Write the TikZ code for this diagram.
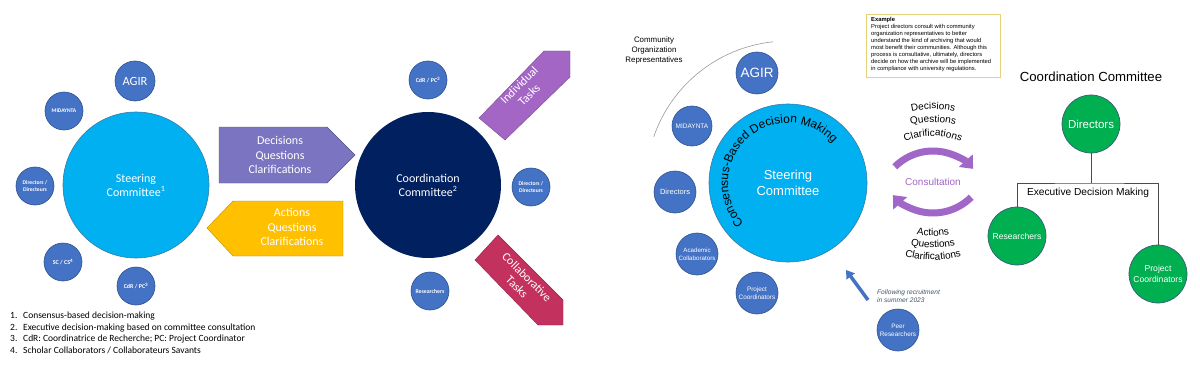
\documentclass[tikz,border=0pt]{standalone}
\usepackage{fontspec}
\setmainfont{Liberation Sans}
\newfontfamily\carl{Carlito}
\usetikzlibrary{arrows.meta,decorations.text,calc}
\newcommand\fsz[2]{\fontsize{#1}{#2}\selectfont}
\definecolor{cSmall}{HTML}{4472C4}
\definecolor{cSmallB}{HTML}{2F528F}
\definecolor{cCyan}{HTML}{00B0F0}
\definecolor{cCyanB}{HTML}{3A7BA8}
\definecolor{cNavy}{HTML}{002060}
\definecolor{cDec}{HTML}{7B74C1}
\definecolor{cAct}{HTML}{FFC000}
\definecolor{cInd}{HTML}{A366C4}
\definecolor{cCol}{HTML}{C3315F}
\definecolor{cCons}{HTML}{A066C8}
\definecolor{cGreen}{HTML}{00B050}
\definecolor{cGreenB}{HTML}{3B5A7A}
\definecolor{cFollow}{HTML}{44546A}
\definecolor{cBox}{HTML}{E6D27A}
\tikzset{
  circ/.style={circle, inner sep=0pt, align=center, text=white},
  small/.style={circ, fill=cSmall, draw=cSmallB, line width=0.6pt},
  bigcyan/.style={circ, fill=cCyan, draw=cCyanB, line width=0.6pt},
  green/.style={circ, fill=cGreen, draw=cGreenB, line width=0.7pt},
  lbl/.style={inner sep=0pt, align=center},
  tree/.style={draw=black!70, line width=1pt},
  consarrow/.style={draw=cCons, line width=7pt, -{Triangle[width=18pt,length=11pt]}},
}
\begin{document}
\begin{tikzpicture}[x=1pt,y=1pt]
\useasboundingbox[fill=white] (0,0) rectangle (1200,-369);

% ---------------- LEFT PANEL ----------------
\node[bigcyan, minimum size=146pt, font=\carl\fsz{12}{14}] (lsteer) at (136,-185) {Steering\\Committee\textsuperscript{1}};
\node[small, minimum size=40pt, font=\carl\fsz{12.5}{13}] (lagir) at (135,-81) {AGIR};
\node[small, minimum size=38pt, font=\carl\bfseries\fsz{5.5}{6}] (lmid) at (64,-111) {MIDAYNTA};
\node[small, minimum size=38pt, font=\carl\bfseries\fsz{5.6}{7.5}] (ldir) at (35,-186) {Directors /\\Directeurs};
\node[small, minimum size=38pt, font=\carl\bfseries\fsz{6}{7}] (lsc) at (63,-262) {SC / CS\textsuperscript{4}};
\node[small, minimum size=38pt, font=\carl\bfseries\fsz{6}{7}] (lcdr) at (136,-286) {CdR / PC\textsuperscript{3}};

\fill[cDec, draw=cDec!70!black, line width=0.4pt] (219,-127) -- (327,-127) -- (355,-155) -- (327,-183) -- (219,-183) -- cycle;
\node[lbl, text=white, font=\carl\fsz{12}{14.5}] (ldec) at (280,-155) {Decisions\\Questions\\Clarifications};
\fill[cAct, draw=cAct!75!black, line width=0.4pt] (207,-228) -- (233,-201) -- (343,-201) -- (343,-256) -- (233,-256) -- cycle;
\node[lbl, text=white, font=\carl\fsz{12}{14.5}] (lact) at (292,-227) {Actions\\Questions\\Clarifications};

\node[circ, fill=cNavy, minimum size=146pt, font=\carl\fsz{12}{14}] (lcoord) at (428,-185) {Coordination\\Committee\textsuperscript{2}};
\node[small, minimum size=38pt, font=\carl\bfseries\fsz{6}{7}] (rcdr) at (428,-80) {CdR / PC\textsuperscript{3}};
\node[small, minimum size=38pt, font=\carl\bfseries\fsz{5.6}{7.5}] (rdir) at (531,-187) {Directors /\\Directeurs};
\node[small, minimum size=38pt, font=\carl\bfseries\fsz{5.8}{7}] (rres) at (430,-291) {Researchers};

\fill[cInd, draw=cInd!75!black, line width=0.4pt] (479,-118) -- (544,-51) -- (570,-51) -- (570,-77) -- (505,-140) -- cycle;
\node[lbl, rotate=45, text=white, font=\carl\fsz{12}{14}] (lind) at (524,-90) {Individual\\Tasks};
\fill[cCol, draw=cCol!75!black, line width=0.4pt] (475,-260) -- (498,-235) -- (563,-300) -- (563,-325) -- (538,-325) -- cycle;
\node[lbl, rotate=-45, text=white, font=\carl\fsz{12}{14}] (lcol) at (522,-282) {Collaborative\\Tasks};

\node[anchor=north west, inner sep=0pt, align=left, font=\carl\fsz{9.5}{11.5}] (legend) at (10,-312)
 {\makebox[13pt][l]{1.}Consensus-based decision-making\\
  \makebox[13pt][l]{2.}Executive decision-making based on committee consultation\\
  \makebox[13pt][l]{3.}CdR: Coordinatrice de Recherche; PC: Project Coordinator\\
  \makebox[13pt][l]{4.}Scholar Collaborators / Collaborateurs Savants};

% ---------------- RIGHT PANEL ----------------
\coordinate (cs) at (788,-183);
\draw[color=black!40, line width=0.6pt] ($(cs)+(161:142pt)$) arc[start angle=161, end angle=96, radius=142pt];
\node[lbl, font=\fsz{7.9}{10}] (community) at (654,-50) {Community\\Organization\\Representatives};

\node[bigcyan, minimum size=158pt, font=\fsz{13}{16}] (rsteer) at (cs) {Steering\\Committee};
\path[decorate, decoration={text along path, text align=center,
  text={|\fsz{12}{12}|Consensus-Based Decision Making}}]
  ($(cs)+(228:60pt)$) arc[start angle=228, end angle=36, radius=60pt];

\node[small, minimum size=42pt, font=\fsz{13.5}{14}] (ragir) at (757,-73) {AGIR};
\node[small, minimum size=40pt, font=\fsz{6.5}{7}] (rmid) at (692,-126) {MIDAYNTA};
\node[small, minimum size=42pt, font=\fsz{7.5}{8}] (rdirs) at (675,-192) {Directors};
\node[small, minimum size=42pt, font=\fsz{6.2}{7.8}] (racad) at (697,-254) {Academic\\Collaborators};
\node[small, minimum size=42pt, font=\fsz{6.4}{7.8}] (rproj) at (757,-293) {Project\\Coordinators};
\node[small, minimum size=42pt, font=\fsz{6.4}{7.8}] (rpeer) at (898,-330) {Peer\\Researchers};

\coordinate (recS) at (868,-300);
\coordinate (recE) at (846,-270);
\draw[draw=cSmall, line width=3.5pt, -{Triangle[width=10pt,length=8pt]}] (recS) -- (recE);
\node[anchor=west, lbl, align=left, text=cFollow, font=\itshape\fsz{6.6}{8}] (follow) at (877,-296) {Following recruitment\\in summer 2023};

% consultation arrows
\coordinate (ctop) at (933,-205);
\coordinate (cbot) at (933,-159);
\draw[consarrow] ($(ctop)+(135:54pt)$) arc[start angle=135, end angle=42, radius=54pt];
\draw[consarrow] ($(cbot)+(-45:54pt)$) arc[start angle=-45, end angle=-138, radius=54pt];
\node[lbl, text=cCons, font=\fsz{10}{10}] (consult) at (933,-182) {Consultation};

\path[decorate, decoration={text along path, text align=center, text={|\fsz{10}{10}|Decisions}}]
  ($(ctop)+(130:96pt)$) arc[start angle=130, end angle=50, radius=96pt];
\path[decorate, decoration={text along path, text align=center, text={|\fsz{10}{10}|Questions}}]
  ($(ctop)+(130:83pt)$) arc[start angle=130, end angle=50, radius=83pt];
\path[decorate, decoration={text along path, text align=center, text={|\fsz{10}{10}|Clarifications}}]
  ($(ctop)+(135:69pt)$) arc[start angle=135, end angle=45, radius=69pt];

\path[decorate, decoration={text along path, text align=center, text={|\fsz{10}{10}|Actions}}]
  ($(cbot)+(-130:77pt)$) arc[start angle=-130, end angle=-50, radius=77pt];
\path[decorate, decoration={text along path, text align=center, text={|\fsz{10}{10}|Questions}}]
  ($(cbot)+(-130:89pt)$) arc[start angle=-130, end angle=-50, radius=89pt];
\path[decorate, decoration={text along path, text align=center, text={|\fsz{10}{10}|Clarifications}}]
  ($(cbot)+(-130:101pt)$) arc[start angle=-130, end angle=-50, radius=101pt];

% example box
\draw[draw=cBox, line width=0.8pt, fill=white] (866,-14) rectangle (1000,-77);
\node[anchor=north west, inner sep=0pt, align=left, font=\fsz{5.8}{7}] (example) at (871,-17.5)
 {\textbf{Example}\\
  Project directors consult with community\\
  organization representatives to better\\
  understand the kind of archiving that would\\
  most benefit their communities. Although this\\
  process is consultative, ultimately, directors\\
  decide on how the archive will be implemented\\
  in compliance with university regulations.};

% coordination committee tree
\node[lbl, font=\fsz{13.2}{14}] (cctitle) at (1091,-77) {Coordination Committee};
\node[green, minimum size=58pt, font=\fsz{11.5}{12}] (gdir) at (1091,-124) {Directors};
\node[green, minimum size=58pt, font=\fsz{8.6}{9}] (gres) at (1017,-236) {Researchers};
\node[green, minimum size=58pt, font=\fsz{8.6}{10.5}] (gpc) at (1158,-274) {Project\\Coordinators};
\coordinate (junc) at (1091,-183);
\draw[tree] (gdir) -- (junc);
\draw[tree] (gres) |- (junc) -| (gpc);
\node[lbl, font=\fsz{10.2}{11}] (exec) at (1088,-193) {Executive Decision Making};
\end{tikzpicture}
\end{document}
